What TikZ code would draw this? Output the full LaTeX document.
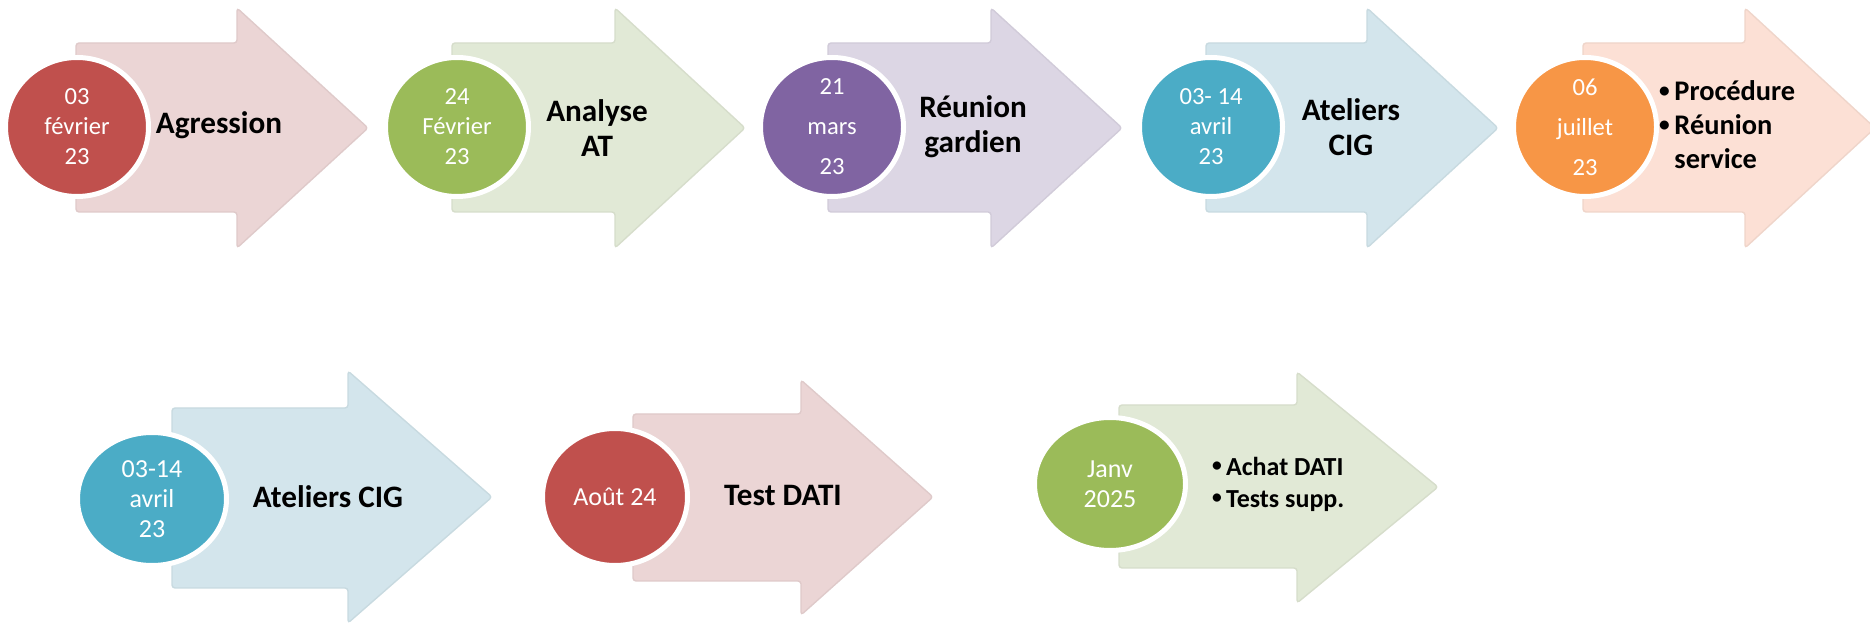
\documentclass[tikz,border=0pt]{standalone}
\usepackage{fontspec}
\setmainfont{Carlito}
\usetikzlibrary{shapes.geometric}
\definecolor{redD}{HTML}{C0504D}
\definecolor{redL}{HTML}{EBD5D5}
\definecolor{greenD}{HTML}{9BBB59}
\definecolor{greenL}{HTML}{E1E9D6}
\definecolor{purpleD}{HTML}{8064A2}
\definecolor{purpleL}{HTML}{DCD6E4}
\definecolor{tealD}{HTML}{4BACC6}
\definecolor{tealL}{HTML}{D3E5EC}
\definecolor{orangeD}{HTML}{F79646}
\definecolor{orangeL}{HTML}{FCE0D5}
\newcommand{\smallbullet}{\raisebox{0.12em}{\scalebox{0.75}{•}}}
\begin{document}
\begin{tikzpicture}
        [x=0.5pt, y=-0.5pt,
        arrowBody/.style={rounded corners=1.5pt, line width=0.7pt},
        date/.style={ellipse, draw=white, line width=2.5pt, text=white, align=center, inner sep=0pt,
          minimum width=71.5pt, minimum height=69.5pt, font=\fontsize{12.3}{15}\selectfont},
        dateWide/.style={date, font=\fontsize{12.3}{20}\selectfont},
        dateLow/.style={date, font=\fontsize{13}{15}\selectfont},
        label/.style={font=\bfseries\fontsize{15.6}{17.5}\selectfont, align=center},
        bullets/.style={font=\bfseries\fontsize{14.2}{17}\selectfont, align=left, anchor=west}]
        \useasboundingbox (0,0) rectangle (1870,625);

        % first row
        \filldraw[arrowBody, fill=redL, draw=redL!95!black] (76,43) -- (237,43) -- (237,8) -- (368,128) -- (237,248) -- (237,212) -- (76,212) -- cycle;
        \filldraw[arrowBody, fill=greenL, draw=greenL!95!black] (452,43) -- (615,43) -- (615,8) -- (745,128) -- (615,248) -- (615,212) -- (452,212) -- cycle;
        \filldraw[arrowBody, fill=purpleL, draw=purpleL!95!black] (828,43) -- (991,43) -- (991,8) -- (1122,128) -- (991,248) -- (991,212) -- (828,212) -- cycle;
        \filldraw[arrowBody, fill=tealL, draw=tealL!95!black] (1206,43) -- (1367,43) -- (1367,8) -- (1498,128) -- (1367,248) -- (1367,212) -- (1206,212) -- cycle;
        \filldraw[arrowBody, fill=orangeL, draw=orangeL!95!black] (1583,43) -- (1745,43) -- (1745,8) -- (1875,128) -- (1745,248) -- (1745,212) -- (1583,212) -- cycle;

        \node[date, fill=redD] (d1) at (77,127) {03\\février\\23};
        \node[date, fill=greenD] (d2) at (457,127) {24\\Février\\23};
        \node[dateWide, fill=purpleD] (d3) at (832,127) {21\\mars\\23};
        \node[date, fill=tealD] (d4) at (1211,127) {03- 14\\avril\\23};
        \node[dateWide, fill=orangeD] (d5) at (1585,127) {06\\juillet\\23};

        \node[label] (t1) at (219,125) {Agression};
        \node[label] (t2) at (597,128) {Analyse\\AT};
        \node[label] (t3) at (973,127) {Réunion\\gardien};
        \node[label] (t4) at (1351,127) {Ateliers\\CIG};
        \node[bullets] (t5) at (1652,125) {\smallbullet\,Procédure\\\smallbullet\,Réunion\\\phantom{\smallbullet\,}service};

        % second row
        \filldraw[arrowBody, fill=tealL, draw=tealL!95!black] (172,408) -- (348,408) -- (348,371) -- (492,497) -- (348,623) -- (348,588) -- (172,588) -- cycle;
        \filldraw[arrowBody, fill=redL, draw=redL!95!black] (633,414) -- (801,414) -- (801,380) -- (933,497) -- (801,615) -- (801,581) -- (633,581) -- cycle;
        \filldraw[arrowBody, fill=greenL, draw=greenL!95!black] (1119,405) -- (1297,405) -- (1297,372) -- (1438,487) -- (1297,603) -- (1297,568) -- (1119,568) -- cycle;

        \node[dateLow, fill=tealD, minimum width=74.5pt, minimum height=66.5pt] (d6) at (152,499) {03-14\\avril\\23};
        \node[dateLow, fill=redD, minimum width=72.5pt, minimum height=68.5pt] (d7) at (615,497) {Août 24};
        \node[dateLow, fill=greenD, minimum width=75.5pt, minimum height=66.5pt] (d8) at (1110,484) {Janv\\2025};

        \node[label] (t6) at (328,497) {Ateliers CIG};
        \node[label] (t7) at (783,495) {Test DATI};
        \node[bullets, font=\bfseries\fontsize{13}{16}\selectfont] (t8) at (1205,484) {\smallbullet\,Achat DATI\\\smallbullet\,Tests supp.};
    \end{tikzpicture}
\end{document}
